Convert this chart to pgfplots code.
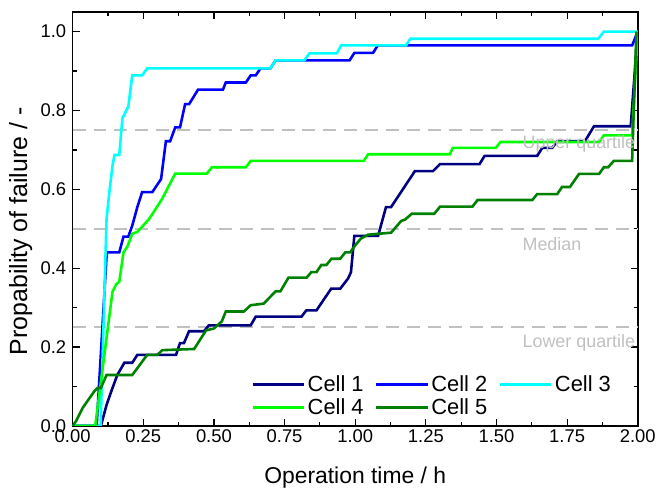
\documentclass[border=0pt]{standalone}
\usepackage{fontspec}
\setmainfont{Liberation Sans}
\usepackage{pgfplots}
\pgfplotsset{compat=1.18}
\definecolor{cone}{RGB}{0,0,128}
\definecolor{ctwo}{RGB}{0,0,255}
\definecolor{cthree}{RGB}{0,255,255}
\definecolor{cfour}{RGB}{0,255,0}
\definecolor{cfive}{RGB}{0,128,0}
\definecolor{qgray}{RGB}{192,192,192}
\begin{document}
\begin{tikzpicture}
\begin{axis}[
    width=568pt, height=416pt, scale only axis,
    xmin=0, xmax=2, ymin=0, ymax=1.05,
    xtick={0,0.25,0.5,0.75,1,1.25,1.5,1.75,2},
    ytick={0,0.2,0.4,0.6,0.8,1.0},
    minor x tick num=1, minor y tick num=1,
    tick align=inside, major tick length=7pt, minor tick length=4pt,
    every tick/.style={black, line width=1.2pt},
    axis line style={line width=1.5pt},
    /pgf/number format/assume math mode=true,
    xticklabel style={/pgf/number format/fixed, /pgf/number format/fixed zerofill, /pgf/number format/precision=2},
    yticklabel style={xshift=-3pt, /pgf/number format/fixed, /pgf/number format/fixed zerofill, /pgf/number format/precision=1},
    tick label style={font=\fontsize{18.5}{21}\selectfont},
    xlabel={Operation time / h},
    ylabel={Propability of failure / -},
    xlabel style={font=\fontsize{23}{26}\selectfont, at={(axis description cs:0.5,-0.125)}, anchor=center},
    ylabel style={font=\fontsize{25}{28}\selectfont, at={(axis description cs:-0.092,0.47)}, anchor=center},
    legend style={at={(axis cs:0.62,0.015)}, anchor=south west, draw=none, fill=none,
      font=\fontsize{22}{25}\selectfont, row sep=1pt,
      /tikz/every even column/.append style={column sep=9pt}},
    legend columns=3, legend cell align=left,
    legend image code/.code={\draw[#1, line width=3pt] (0pt,0pt) -- (52pt,0pt);},
    every axis plot/.append style={line width=2.6pt, line join=miter},
  ]
  \addplot[qgray, line width=1.8pt, dash pattern=on 13pt off 8pt, forget plot] coordinates {(0,0.75) (2,0.75)};
  \addplot[qgray, line width=1.8pt, dash pattern=on 13pt off 8pt, forget plot] coordinates {(0,0.5) (2,0.5)};
  \addplot[qgray, line width=1.8pt, dash pattern=on 13pt off 8pt, forget plot] coordinates {(0,0.25) (2,0.25)};

  \addplot[cone] coordinates {
    (0,0) (0.10,0) (0.12,0.053) (0.137,0.088) (0.158,0.129) (0.183,0.160) (0.211,0.160)
    (0.229,0.18) (0.366,0.18) (0.38,0.21) (0.394,0.21) (0.412,0.24) (0.465,0.24)
    (0.482,0.255) (0.63,0.255) (0.648,0.277) (0.81,0.277) (0.827,0.293) (0.863,0.293)
    (0.915,0.348) (0.947,0.348) (0.975,0.374) (0.985,0.39) (0.997,0.482) (1.081,0.482)
    (1.109,0.555) (1.127,0.555) (1.211,0.646) (1.275,0.646) (1.30,0.664) (1.44,0.664)
    (1.458,0.685) (1.644,0.685) (1.662,0.705) (1.697,0.705) (1.715,0.722) (1.813,0.722)
    (1.845,0.76) (1.975,0.76) (2.0,1.0)};
  \addlegendentry{Cell 1}
  \addplot[ctwo] coordinates {
    (0,0) (0.085,0) (0.12,0.43) (0.122,0.44) (0.165,0.44) (0.18,0.48) (0.197,0.48)
    (0.211,0.508) (0.229,0.555) (0.246,0.593) (0.282,0.593) (0.313,0.626) (0.33,0.722)
    (0.345,0.722) (0.363,0.757) (0.38,0.757) (0.398,0.816) (0.412,0.816) (0.444,0.853)
    (0.532,0.853) (0.542,0.871) (0.613,0.871) (0.63,0.889) (0.648,0.889) (0.665,0.907)
    (0.70,0.907) (0.718,0.927) (0.98,0.927) (0.997,0.946) (1.063,0.946) (1.08,0.965)
    (1.98,0.965) (2.0,1.0)};
  \addlegendentry{Cell 2}
  \addplot[cthree] coordinates {
    (0,0) (0.099,0) (0.12,0.525) (0.13,0.593) (0.141,0.66) (0.148,0.687) (0.165,0.687)
    (0.176,0.78) (0.197,0.81) (0.211,0.889) (0.246,0.889) (0.264,0.907) (0.70,0.907)
    (0.718,0.927) (0.82,0.927) (0.838,0.945) (0.935,0.945) (0.95,0.965) (1.18,0.965)
    (1.195,0.982) (1.86,0.982) (1.88,1.0) (2.0,1.0)};
  \addlegendentry{Cell 3}
  \addplot[cfour] coordinates {
    (0,0) (0.08,0) (0.141,0.34) (0.155,0.36) (0.165,0.365) (0.18,0.44) (0.194,0.455)
    (0.211,0.487) (0.229,0.492) (0.271,0.525) (0.317,0.576) (0.363,0.64) (0.475,0.64)
    (0.493,0.656) (0.613,0.656) (0.63,0.672) (1.03,0.672) (1.046,0.689) (1.335,0.689)
    (1.345,0.705) (1.497,0.705) (1.514,0.72) (1.863,0.72) (1.88,0.737) (1.98,0.737)
    (2.0,1.0)};
  \addlegendentry{Cell 4}
  \addplot[cfive] coordinates {
    (0,0) (0.012,0.012) (0.035,0.045) (0.077,0.088) (0.088,0.096) (0.10,0.096)
    (0.12,0.129) (0.211,0.129) (0.264,0.18) (0.3,0.18) (0.317,0.192) (0.43,0.195)
    (0.472,0.242) (0.5,0.247) (0.528,0.265) (0.542,0.29) (0.606,0.29) (0.63,0.306)
    (0.676,0.31) (0.718,0.341) (0.735,0.341) (0.764,0.376) (0.828,0.376) (0.845,0.39)
    (0.863,0.39) (0.88,0.408) (0.898,0.408) (0.916,0.424) (0.947,0.424) (0.965,0.44)
    (0.982,0.44) (1.0,0.458) (1.02,0.475) (1.046,0.485) (1.127,0.49) (1.163,0.52)
    (1.176,0.523) (1.2,0.538) (1.28,0.538) (1.30,0.556) (1.415,0.556) (1.433,0.573)
    (1.627,0.573) (1.644,0.588) (1.715,0.588) (1.732,0.606) (1.76,0.606) (1.792,0.639)
    (1.863,0.639) (1.88,0.656) (1.895,0.656) (1.915,0.672) (1.98,0.672) (1.995,1.0)};
  \addlegendentry{Cell 5}

  \node[anchor=west, text=qgray, font=\fontsize{18}{21}\selectfont] at (axis cs:1.58,0.715) {Upper quartile};
  \node[anchor=west, text=qgray, font=\fontsize{18}{21}\selectfont] at (axis cs:1.58,0.46) {Median};
  \node[anchor=west, text=qgray, font=\fontsize{18}{21}\selectfont] at (axis cs:1.58,0.21) {Lower quartile};
\end{axis}
\path (current axis.south west) ++(-73pt,-61pt);
\path (current axis.north east) ++(18pt,12pt);
\end{tikzpicture}
\end{document}
